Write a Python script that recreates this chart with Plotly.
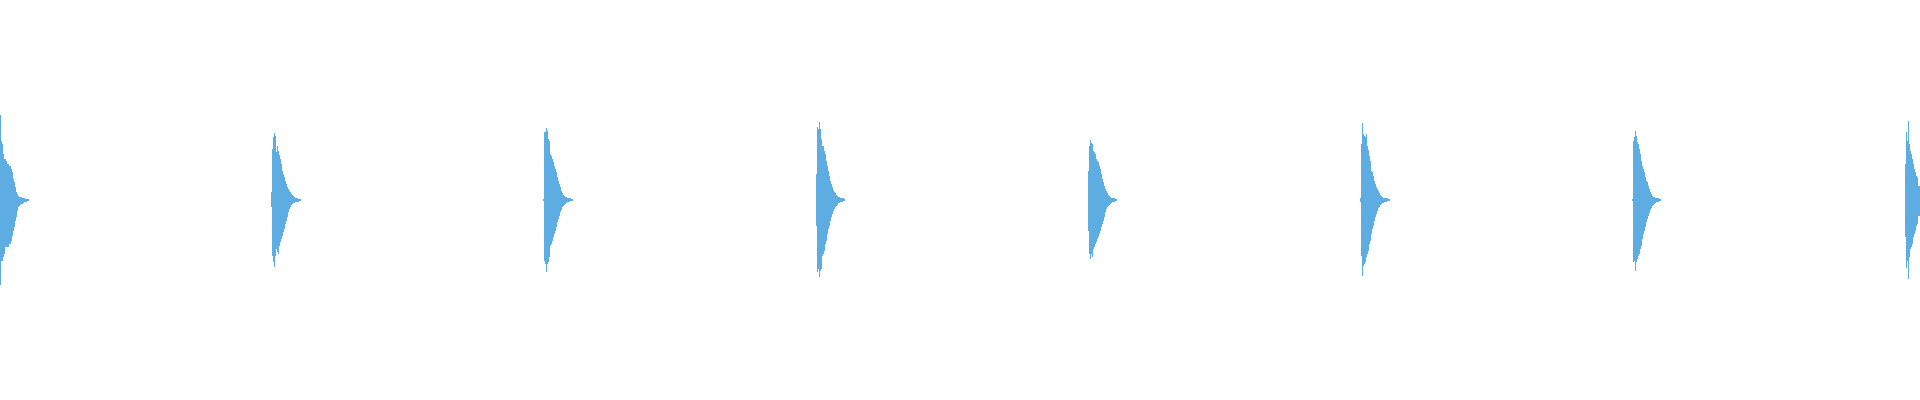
import plotly.graph_objects as go

# Sample index of the first sample of each beat
beat_onsets = [0, 271, 543, 816, 1088, 1360, 1632, 1905]

# Positive (upper) amplitude envelope of each beat, one value per sample
beat_pos = [
    [0.855, 0.595, 0.56, 0.46, 0.41, 0.41, 0.395, 0.36, 0.36, 0.345, 0.345, 0.31, 0.28, 0.21, 0.18,
     0.13, 0.08, 0.06, 0.045, 0.035, 0.03, 0.028, 0.022, 0.018, 0.012, 0.008, 0.006, 0.004, 0.002],
    [0.078, 0.512, 0.628, 0.668, 0.645, 0.478, 0.545, 0.495, 0.452, 0.412, 0.362, 0.295, 0.262, 0.228, 0.195,
     0.162, 0.128, 0.112, 0.095, 0.078, 0.062, 0.048, 0.038, 0.028, 0.022, 0.015, 0.012, 0.008, 0.005, 0.003],
    [0.01, 0.678, 0.685, 0.718, 0.695, 0.612, 0.595, 0.462, 0.445, 0.412, 0.378, 0.345, 0.312, 0.278, 0.228,
     0.195, 0.162, 0.128, 0.095, 0.072, 0.055, 0.045, 0.035, 0.028, 0.022, 0.018, 0.015, 0.012, 0.01, 0.005],
    [0.262, 0.735, 0.712, 0.785, 0.712, 0.612, 0.545, 0.545, 0.495, 0.462, 0.395, 0.345, 0.295, 0.245, 0.195,
     0.162, 0.128, 0.102, 0.085, 0.068, 0.055, 0.045, 0.035, 0.028, 0.025, 0.022, 0.015, 0.012, 0.008],
    [0.295, 0.545, 0.602, 0.568, 0.562, 0.488, 0.478, 0.462, 0.412, 0.395, 0.378, 0.345, 0.312, 0.262, 0.212,
     0.178, 0.145, 0.112, 0.088, 0.068, 0.055, 0.042, 0.032, 0.025, 0.018, 0.015, 0.012, 0.008, 0.005],
    [0.022, 0.562, 0.768, 0.662, 0.645, 0.628, 0.662, 0.545, 0.502, 0.445, 0.395, 0.295, 0.278, 0.245, 0.195,
     0.162, 0.135, 0.112, 0.088, 0.068, 0.055, 0.042, 0.032, 0.025, 0.022, 0.018, 0.015, 0.012, 0.008, 0.005],
    [0.008, 0.595, 0.628, 0.695, 0.645, 0.578, 0.562, 0.512, 0.462, 0.395, 0.345, 0.312, 0.278, 0.228, 0.195,
     0.178, 0.145, 0.112, 0.085, 0.062, 0.045, 0.035, 0.028, 0.022, 0.018, 0.015, 0.012, 0.008, 0.005],
    [0.362, 0.678, 0.595, 0.788, 0.562, 0.495, 0.462, 0.412, 0.362, 0.312, 0.278, 0.245, 0.228, 0.145, 0.145],
]

# Negative (lower) amplitude envelope of each beat, one value per sample
beat_neg = [
    [-0.85, -0.605, -0.605, -0.57, -0.54, -0.47, -0.47, -0.47, -0.47, -0.44, -0.44, -0.405, -0.355, -0.305, -0.27,
     -0.205, -0.17, -0.105, -0.07, -0.06, -0.05, -0.04, -0.038, -0.03, -0.022, -0.016, -0.012, -0.008, -0.004],
    [-0.072, -0.555, -0.622, -0.672, -0.555, -0.488, -0.522, -0.538, -0.455, -0.422, -0.388, -0.355, -0.322, -0.288, -0.238,
     -0.205, -0.172, -0.122, -0.088, -0.065, -0.048, -0.038, -0.032, -0.025, -0.022, -0.018, -0.015, -0.012, -0.008, -0.005],
    [-0.01, -0.605, -0.638, -0.722, -0.638, -0.62, -0.57, -0.455, -0.44, -0.405, -0.372, -0.338, -0.305, -0.272, -0.222,
     -0.188, -0.155, -0.122, -0.1, -0.072, -0.055, -0.045, -0.035, -0.028, -0.022, -0.015, -0.012, -0.01, -0.008, -0.005],
    [-0.255, -0.722, -0.688, -0.772, -0.705, -0.688, -0.555, -0.538, -0.505, -0.438, -0.405, -0.338, -0.288, -0.255, -0.205,
     -0.165, -0.138, -0.112, -0.088, -0.072, -0.055, -0.045, -0.032, -0.025, -0.018, -0.015, -0.012, -0.008, -0.005],
    [-0.305, -0.538, -0.588, -0.538, -0.572, -0.488, -0.472, -0.438, -0.422, -0.388, -0.372, -0.338, -0.305, -0.272, -0.238,
     -0.205, -0.172, -0.122, -0.088, -0.065, -0.055, -0.045, -0.035, -0.025, -0.018, -0.015, -0.012, -0.008, -0.005],
    [-0.022, -0.555, -0.755, -0.655, -0.638, -0.622, -0.572, -0.538, -0.505, -0.438, -0.405, -0.338, -0.288, -0.255, -0.205,
     -0.172, -0.138, -0.105, -0.082, -0.065, -0.052, -0.042, -0.032, -0.025, -0.018, -0.015, -0.012, -0.008, -0.005, -0.003],
    [-0.005, -0.622, -0.605, -0.705, -0.622, -0.588, -0.555, -0.538, -0.488, -0.455, -0.388, -0.338, -0.305, -0.272, -0.222,
     -0.188, -0.155, -0.128, -0.098, -0.078, -0.062, -0.048, -0.035, -0.025, -0.018, -0.015, -0.012, -0.008, -0.005],
    [-0.365, -0.682, -0.605, -0.788, -0.572, -0.488, -0.472, -0.438, -0.372, -0.338, -0.305, -0.255, -0.238, -0.155, -0.155],
]

total_samples = 1920
wave_color = "#5DADE2"

x_pos, y_pos, x_neg, y_neg = [], [], [], []
for onset, pos, neg in zip(beat_onsets, beat_pos, beat_neg):
    for i, v in enumerate(pos):
        x_pos.append(onset + i)
        y_pos.append(v)
    for i, v in enumerate(neg):
        x_neg.append(onset + i)
        y_neg.append(v)

fig = go.Figure()
fig.add_trace(go.Bar(x=x_pos, y=y_pos, marker=dict(color=wave_color, line=dict(width=0)),
                     width=1, showlegend=False, hoverinfo="skip"))
fig.add_trace(go.Bar(x=x_neg, y=y_neg, marker=dict(color=wave_color, line=dict(width=0)),
                     width=1, showlegend=False, hoverinfo="skip"))

fig.update_layout(
    width=1920, height=400,
    margin=dict(l=0, r=0, t=0, b=0),
    paper_bgcolor="white", plot_bgcolor="white",
    barmode="relative", bargap=0, bargroupgap=0,
    showlegend=False,
    xaxis=dict(range=[-0.5, total_samples - 0.5], visible=False, showgrid=False, zeroline=False),
    yaxis=dict(range=[-2, 2], visible=False, showgrid=False, zeroline=False),
)

fig.write_html(
    "out.html",
    config={"displayModeBar": False},
    post_script="document.body.style.margin='0';document.body.style.overflow='hidden';",
)
